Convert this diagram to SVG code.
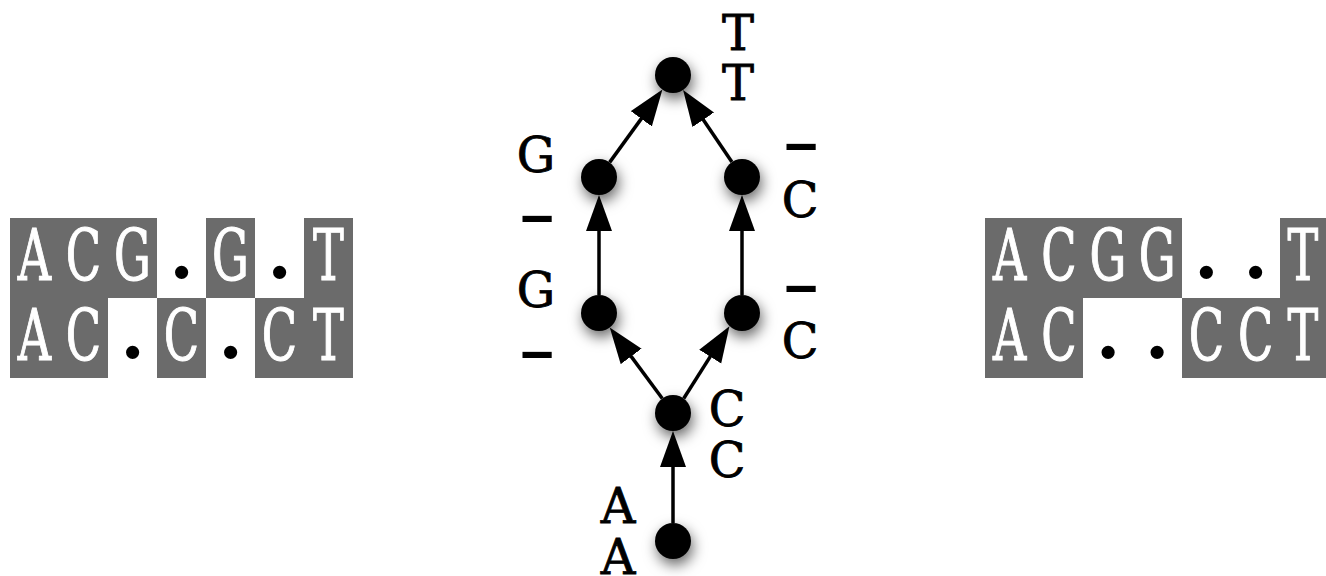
<svg xmlns="http://www.w3.org/2000/svg" width="1326" height="576" viewBox="0 0 1326 576">
<style>
.cell{fill:#6b6b6b}
.gl{font-family:"DejaVu Serif","Liberation Serif",serif;font-size:71px;fill:#ffffff;stroke:#ffffff;stroke-width:1.2;text-anchor:middle}
.dot{font-family:"DejaVu Serif","Liberation Serif",serif;font-size:71px;font-weight:bold;fill:#000000;text-anchor:middle}
.lbl{font-family:"DejaVu Serif","Liberation Serif",serif;font-size:48px;fill:#000000;stroke:#000000;stroke-width:0.8;text-anchor:middle}
.dash{font-family:"DejaVu Serif","Liberation Serif",serif;font-size:48px;font-weight:bold;fill:#000000;text-anchor:middle}
.node{fill:#000000}
.edge{stroke:#000000;stroke-width:3.5;fill:none;marker-end:url(#arr)}
</style>
<defs>
<marker id="arr" markerUnits="userSpaceOnUse" markerWidth="40" markerHeight="30" refX="6" refY="13" orient="auto">
<path d="M0,0 L36,13 L0,26 z" fill="#000000"/>
</marker>
<filter id="sh" x="-150%" y="-150%" width="400%" height="400%">
<feDropShadow dx="2" dy="6" stdDeviation="7" flood-color="#000000" flood-opacity="0.6"/>
</filter>
</defs>

<g id="alignment-left">
<rect class="cell" x="10" y="218" width="147" height="80"/>
<rect class="cell" x="206" y="218" width="49" height="80"/>
<rect class="cell" x="304" y="218" width="49" height="80"/>
<rect class="cell" x="10" y="298" width="98" height="80"/>
<rect class="cell" x="157" y="298" width="49" height="80"/>
<rect class="cell" x="255" y="298" width="98" height="80"/>
<text class="gl" transform="translate(34.5,280) scale(0.65,1)">A</text>
<text class="gl" transform="translate(83.5,280) scale(0.65,1)">C</text>
<text class="gl" transform="translate(132.5,280) scale(0.65,1)">G</text>
<text class="dot" x="181.5" y="278">.</text>
<text class="gl" transform="translate(230.5,280) scale(0.65,1)">G</text>
<text class="dot" x="279.5" y="278">.</text>
<text class="gl" transform="translate(328.5,280) scale(0.65,1)">T</text>
<text class="gl" transform="translate(34.5,360) scale(0.65,1)">A</text>
<text class="gl" transform="translate(83.5,360) scale(0.65,1)">C</text>
<text class="dot" x="132.5" y="358">.</text>
<text class="gl" transform="translate(181.5,360) scale(0.65,1)">C</text>
<text class="dot" x="230.5" y="358">.</text>
<text class="gl" transform="translate(279.5,360) scale(0.65,1)">C</text>
<text class="gl" transform="translate(328.5,360) scale(0.65,1)">T</text>
</g>

<g id="alignment-right">
<rect class="cell" x="985" y="218" width="197" height="80"/>
<rect class="cell" x="1280" y="218" width="50" height="80"/>
<rect class="cell" x="985" y="298" width="98" height="80"/>
<rect class="cell" x="1182" y="298" width="148" height="80"/>
<text class="gl" transform="translate(1009.6,280) scale(0.65,1)">A</text>
<text class="gl" transform="translate(1058.8,280) scale(0.65,1)">C</text>
<text class="gl" transform="translate(1108,280) scale(0.65,1)">G</text>
<text class="gl" transform="translate(1157.2,280) scale(0.65,1)">G</text>
<text class="dot" x="1206.4" y="278">.</text>
<text class="dot" x="1255.6" y="278">.</text>
<text class="gl" transform="translate(1303,280) scale(0.65,1)">T</text>
<text class="gl" transform="translate(1009.6,360) scale(0.65,1)">A</text>
<text class="gl" transform="translate(1058.8,360) scale(0.65,1)">C</text>
<text class="dot" x="1108" y="358">.</text>
<text class="dot" x="1157.2" y="358">.</text>
<text class="gl" transform="translate(1206.4,360) scale(0.65,1)">C</text>
<text class="gl" transform="translate(1255.6,360) scale(0.65,1)">C</text>
<text class="gl" transform="translate(1303,360) scale(0.65,1)">T</text>
</g>

<g id="connectors">
<line class="edge" x1="673" y1="523" x2="673" y2="461"/>
<line class="edge" x1="662.3" y1="398.5" x2="627.6" y2="351.6"/>
<line class="edge" x1="683.7" y1="398.5" x2="713.4" y2="351.6"/>
<line class="edge" x1="599" y1="295" x2="599" y2="225"/>
<line class="edge" x1="742" y1="295" x2="742" y2="225"/>
<line class="edge" x1="609.6" y1="162.4" x2="644.8" y2="113.9"/>
<line class="edge" x1="731.9" y1="162.1" x2="699.9" y2="114.8"/>
</g>

<g id="node-top">
<circle class="node" cx="673" cy="75" r="18" filter="url(#sh)"/>
<text class="lbl" x="738" y="50">T</text>
<text class="lbl" x="738" y="100">T</text>
</g>
<g id="node-g-upper">
<circle class="node" cx="599" cy="177" r="18" filter="url(#sh)"/>
<text class="lbl" x="536" y="172">G</text>
<text class="dash" transform="translate(537,233) scale(1.55,1.1)">–</text>
</g>
<g id="node-c-upper">
<circle class="node" cx="742" cy="177" r="18" filter="url(#sh)"/>
<text class="dash" transform="translate(801,161) scale(1.55,1.1)">–</text>
<text class="lbl" x="800" y="217">C</text>
</g>
<g id="node-g-lower">
<circle class="node" cx="599" cy="313" r="18" filter="url(#sh)"/>
<text class="lbl" x="536" y="307">G</text>
<text class="dash" transform="translate(537,369) scale(1.55,1.1)">–</text>
</g>
<g id="node-c-lower">
<circle class="node" cx="742" cy="313" r="18" filter="url(#sh)"/>
<text class="dash" transform="translate(801,303) scale(1.55,1.1)">–</text>
<text class="lbl" x="800" y="358">C</text>
</g>
<g id="node-c-mid">
<circle class="node" cx="673" cy="413" r="18" filter="url(#sh)"/>
<text class="lbl" x="727" y="426">C</text>
<text class="lbl" x="727" y="477">C</text>
</g>
<g id="node-a-bottom">
<circle class="node" cx="673" cy="541" r="18" filter="url(#sh)"/>
<text class="lbl" x="618" y="523">A</text>
<text class="lbl" x="618" y="574">A</text>
</g>
</svg>
